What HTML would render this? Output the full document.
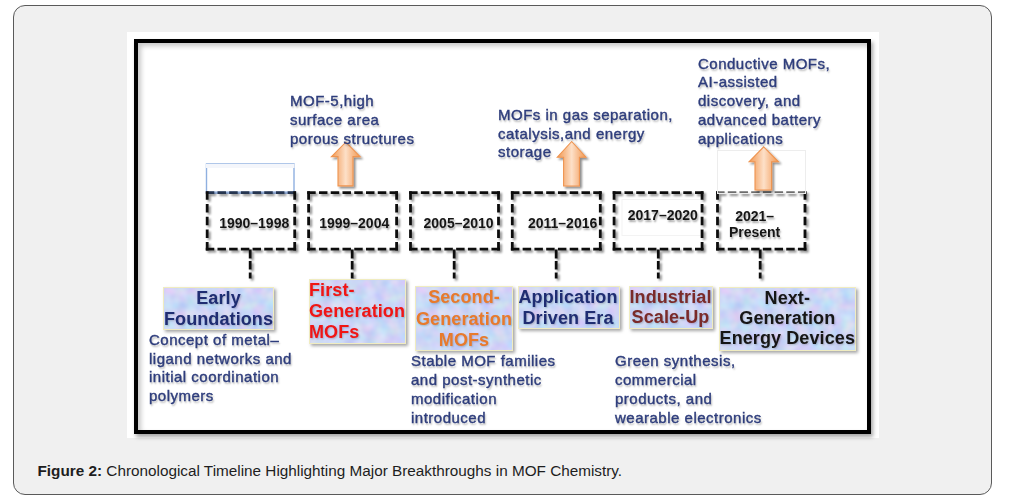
<!DOCTYPE html>
<html><head><meta charset="utf-8">
<style>
html,body{margin:0;padding:0;background:#fff;width:1011px;height:501px;overflow:hidden;font-family:"Liberation Sans",sans-serif;}
.outer{position:absolute;left:13px;top:5px;width:977px;height:488px;border:1px solid #5a5a5a;border-radius:12px;background:#f0f0f0;}
.fig{position:absolute;left:127px;top:32px;width:752px;height:406px;background:#fff;}
.frame{position:absolute;left:134px;top:39px;width:728.7px;height:386.5px;filter:blur(0.4px);border:4px solid #000;box-shadow:2px 3px 4px rgba(0,0,0,.35), inset 3px 3px 5px rgba(0,0,0,.22);}
.cap{position:absolute;left:37.5px;top:461.5px;font-size:15.3px;line-height:18px;color:#1e1e1e;white-space:nowrap;}
.t{position:absolute;white-space:nowrap;color:#2e3d7c;font-size:15px;letter-spacing:0.5px;line-height:18.7px;text-shadow:1px 2px 2px rgba(0,0,0,.3);-webkit-text-stroke:0.4px #2e3d7c;}
.yr{position:absolute;white-space:nowrap;color:#151515;font-size:14px;line-height:16px;font-weight:bold;text-align:center;width:100px;text-shadow:1px 2px 2px rgba(0,0,0,.35);}
.box{position:absolute;background:#cdd5f2;border:1.7px solid #f0ecc0;box-sizing:border-box;box-shadow:2px 2px 3px rgba(0,0,0,.35);overflow:hidden;}
.box svg{position:absolute;left:0;top:0;}
.lbl{position:absolute;font-weight:bold;font-size:18px;letter-spacing:0.1px;line-height:21px;text-align:center;white-space:nowrap;text-shadow:1px 1px 2px rgba(0,0,0,.2);}
svg.main{position:absolute;left:0;top:0;}
</style></head><body>
<div class="outer"></div>
<div class="fig"></div>
<div id="figc" style="position:absolute;left:0;top:0;width:1011px;height:501px;filter:blur(0.5px);">
<div class="frame"></div>

<svg class="main" width="1011" height="501" viewBox="0 0 1011 501">
  <defs>
    <linearGradient id="ag" x1="0" y1="0" x2="1" y2="0">
      <stop offset="0" stop-color="#f29a52"/>
      <stop offset="0.3" stop-color="#f8c196"/>
      <stop offset="0.5" stop-color="#fde0c8"/>
      <stop offset="0.7" stop-color="#f8c196"/>
      <stop offset="1" stop-color="#f29a52"/>
    </linearGradient>
    <filter id="sh" x="-30%" y="-30%" width="160%" height="160%">
      <feGaussianBlur in="SourceAlpha" stdDeviation="1.3"/>
      <feOffset dx="1.5" dy="2" result="b"/>
      <feComponentTransfer><feFuncA type="linear" slope="0.45"/></feComponentTransfer>
      <feMerge><feMergeNode/><feMergeNode in="SourceGraphic"/></feMerge>
    </filter>
    <filter id="tex" x="0" y="0" width="100%" height="100%" color-interpolation-filters="sRGB">
      <feTurbulence type="fractalNoise" baseFrequency="0.09" numOctaves="2" seed="5"/>
      <feColorMatrix values="0.25 0 0 0 0.675  0 0.2 0 0 0.74  0 0 0.08 0 0.925  0 0 0 0 1"/><feGaussianBlur stdDeviation="0.8"/>
    </filter>
  </defs>
  <!-- faint rect box5 text -->
  <rect x="622" y="199.5" width="79" height="36" fill="none" stroke="#f3f3f3" stroke-width="1"/>
  <!-- blue thin rect over box1 top -->
  <rect x="206.5" y="164" width="87.5" height="28.5" fill="none" stroke="#8fb0e0" stroke-width="1.4"/>
  <rect x="206" y="164" width="88.5" height="4" fill="#f4f6fb"/>
  <line x1="206" y1="192.7" x2="295" y2="192.7" stroke="#9cb8e4" stroke-width="2.6"/>
  <!-- dashed boxes -->
  <g fill="none" stroke="#111" stroke-width="2.8" filter="url(#sh)">
<line stroke="#27354f" x1="205.80" y1="192.70" x2="296.10" y2="192.70" stroke-dasharray="8.5 3.19"/>
<line x1="294.70" y1="191.30" x2="294.70" y2="250.60" stroke-dasharray="8.5 4.20"/>
<line x1="296.10" y1="249.20" x2="205.80" y2="249.20" stroke-dasharray="8.5 3.19"/>
<line x1="207.20" y1="250.60" x2="207.20" y2="191.30" stroke-dasharray="8.5 4.20"/>
<line x1="307.20" y1="192.70" x2="398.00" y2="192.70" stroke-dasharray="8.5 3.26"/>
<line x1="396.60" y1="191.30" x2="396.60" y2="250.60" stroke-dasharray="8.5 4.20"/>
<line x1="398.00" y1="249.20" x2="307.20" y2="249.20" stroke-dasharray="8.5 3.26"/>
<line x1="308.60" y1="250.60" x2="308.60" y2="191.30" stroke-dasharray="8.5 4.20"/>
<line x1="409.10" y1="192.70" x2="499.90" y2="192.70" stroke-dasharray="8.5 3.26"/>
<line x1="498.50" y1="191.30" x2="498.50" y2="250.60" stroke-dasharray="8.5 4.20"/>
<line x1="499.90" y1="249.20" x2="409.10" y2="249.20" stroke-dasharray="8.5 3.26"/>
<line x1="410.50" y1="250.60" x2="410.50" y2="191.30" stroke-dasharray="8.5 4.20"/>
<line x1="510.90" y1="192.70" x2="601.70" y2="192.70" stroke-dasharray="8.5 3.26"/>
<line x1="600.30" y1="191.30" x2="600.30" y2="250.60" stroke-dasharray="8.5 4.20"/>
<line x1="601.70" y1="249.20" x2="510.90" y2="249.20" stroke-dasharray="8.5 3.26"/>
<line x1="512.30" y1="250.60" x2="512.30" y2="191.30" stroke-dasharray="8.5 4.20"/>
<line x1="612.70" y1="192.70" x2="703.50" y2="192.70" stroke-dasharray="8.5 3.26"/>
<line x1="702.10" y1="191.30" x2="702.10" y2="250.60" stroke-dasharray="8.5 4.20"/>
<line x1="703.50" y1="249.20" x2="612.70" y2="249.20" stroke-dasharray="8.5 3.26"/>
<line x1="614.10" y1="250.60" x2="614.10" y2="191.30" stroke-dasharray="8.5 4.20"/>
<line x1="716.10" y1="192.70" x2="806.40" y2="192.70" stroke-dasharray="8.5 3.19"/>
<line x1="805.00" y1="191.30" x2="805.00" y2="250.60" stroke-dasharray="8.5 4.20"/>
<line x1="806.40" y1="249.20" x2="716.10" y2="249.20" stroke-dasharray="8.5 3.19"/>
<line x1="717.50" y1="250.60" x2="717.50" y2="191.30" stroke-dasharray="8.5 4.20"/>
    <line x1="250.2" y1="249.5" x2="250.2" y2="278.4" stroke-dasharray="9 2.5 8.5 3 7"/>
    <line x1="352.2" y1="249.5" x2="352.2" y2="278.4" stroke-dasharray="9 2.5 8.5 3 7"/>
    <line x1="454.2" y1="249.5" x2="454.2" y2="278.4" stroke-dasharray="9 2.5 8.5 3 7"/>
    <line x1="556.2" y1="249.5" x2="556.2" y2="278.4" stroke-dasharray="9 2.5 8.5 3 7"/>
    <line x1="658.3" y1="249.5" x2="658.3" y2="278.4" stroke-dasharray="9 2.5 8.5 3 7"/>
    <line x1="760.2" y1="249.5" x2="760.2" y2="278.4" stroke-dasharray="9 2.5 8.5 3 7"/>
  </g>
  <!-- faint rect box6 -->
  <rect x="717.5" y="150.5" width="88" height="43" fill="rgba(255,255,255,0.4)" stroke="#ededed" stroke-width="1"/>
  <!-- arrows -->
  <g fill="url(#ag)" stroke="#ef9450" stroke-width="1.1" stroke-linejoin="miter" filter="url(#sh)">
    <path d="M345.8 142.2 L360.1 156.6 L353 156.6 L353 185.9 L338 185.9 L338 156.6 L331.4 156.6 Z"/>
    <path d="M571.7 141.5 L586 157.2 L579.4 157.2 L579.4 186 L563.6 186 L563.6 157.2 L557.3 157.2 Z"/>
    <path d="M763.7 146.9 L778.5 161.8 L771.6 161.8 L771.6 190 L755 190 L755 161.8 L749.1 161.8 Z"/>
  </g>
</svg>

<div class="t" style="left:290px;top:92.4px;">MOF-5,high<br>surface area<br>porous structures</div>
<div class="t" style="left:498px;top:106.4px;line-height:18.5px;">MOFs in gas separation,<br>catalysis,and energy<br>storage</div>
<div class="t" style="left:698px;top:54.5px;line-height:18.9px;">Conductive MOFs,<br>AI-assisted<br>discovery, and<br>advanced battery<br>applications</div>

<div class="yr" style="left:204.2px;top:215.1px;">1990–1998</div>
<div class="yr" style="left:304.2px;top:215.1px;">1999–2004</div>
<div class="yr" style="left:408.6px;top:215.1px;">2005–2010</div>
<div class="yr" style="left:512.6px;top:215.1px;">2011–2016</div>
<div class="yr" style="left:612.8px;top:207.3px;">2017–2020</div>
<div class="yr" style="left:704.6px;top:207.8px;line-height:16.4px;">2021–<br>Present</div>

<div class="box" style="left:163px;top:286.5px;width:111px;height:43px;"><svg width="140" height="70"><rect width="140" height="70" filter="url(#tex)"/></svg></div>
<div class="box" style="left:308.5px;top:279px;width:97.5px;height:64.5px;"><svg width="140" height="70"><rect width="140" height="70" filter="url(#tex)"/></svg></div>
<div class="box" style="left:414.8px;top:286px;width:98.5px;height:65.3px;"><svg width="140" height="70"><rect width="140" height="70" filter="url(#tex)"/></svg></div>
<div class="box" style="left:517.5px;top:286.3px;width:102px;height:43.2px;"><svg width="140" height="70"><rect width="140" height="70" filter="url(#tex)"/></svg></div>
<div class="box" style="left:629.4px;top:286.1px;width:83.4px;height:43.3px;"><svg width="140" height="70"><rect width="140" height="70" filter="url(#tex)"/></svg></div>
<div class="box" style="left:719px;top:287px;width:137.2px;height:64.2px;"><svg width="140" height="70"><rect width="140" height="70" filter="url(#tex)"/></svg></div>

<div class="lbl" style="left:118.5px;width:200px;top:288px;line-height:20.6px;color:#1f2d72;">Early<br>Foundations</div>
<div class="lbl" style="left:309px;top:279.7px;line-height:21.2px;text-align:left;color:#f01515;">First-<br>Generation<br>MOFs</div>
<div class="lbl" style="left:364px;width:200px;top:287.4px;line-height:21.2px;color:#e87a2c;">Second-<br>Generation<br>MOFs</div>
<div class="lbl" style="left:468px;width:200px;top:287.4px;line-height:20.7px;color:#1f2d72;">Application<br>Driven Era</div>
<div class="lbl" style="left:570.5px;width:200px;top:286.8px;line-height:20.5px;color:#7a2a2a;">Industrial<br>Scale-Up</div>
<div class="lbl" style="left:687.3px;width:200px;top:287.5px;line-height:20.4px;color:#161616;">Next-<br>Generation<br>Energy Devices</div>

<div class="t" style="left:149px;top:331.3px;line-height:18.6px;">Concept of metal–<br>ligand networks and<br>initial coordination<br>polymers</div>
<div class="t" style="left:411px;top:351.9px;line-height:18.9px;">Stable MOF families<br>and post-synthetic<br>modification<br>introduced</div>
<div class="t" style="left:615px;top:351.9px;line-height:18.9px;">Green synthesis,<br>commercial<br>products, and<br>wearable electronics</div>

</div>
<div class="cap"><b>Figure 2:</b> Chronological Timeline Highlighting Major Breakthroughs in MOF Chemistry.</div>
</body></html>
